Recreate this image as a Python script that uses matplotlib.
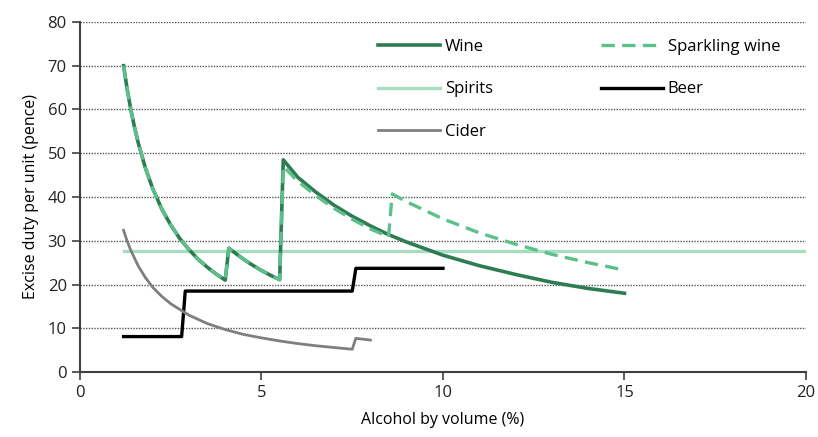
import matplotlib
matplotlib.use("Agg")
import matplotlib.pyplot as plt

# ABV (%) and excise duty per unit (pence)
wine_abv = [1.2, 1.3, 1.4, 1.5, 1.6, 1.8, 2.0, 2.25, 2.5, 2.75, 3.0, 3.25, 3.5, 3.75, 4.0,
            4.1, 4.4, 4.7, 5.0, 5.25, 5.5,
            5.6, 6.0, 6.5, 7.0, 7.5, 8.0, 8.5, 9.0, 10.0, 11.0, 12.0, 13.0, 14.0, 15.0]
wine_duty = [70.0, 64.6, 60.0, 56.0, 52.5, 46.7, 42.0, 37.3, 33.6, 30.5, 28.0, 25.8, 24.0, 22.4, 21.0,
             28.3, 26.4, 24.7, 23.2, 22.1, 21.1,
             48.5, 44.5, 41.1, 38.1, 35.6, 33.4, 31.4, 29.7, 26.7, 24.3, 22.3, 20.5, 19.1, 18.0]

spark_abv = [1.2, 1.3, 1.4, 1.5, 1.6, 1.8, 2.0, 2.25, 2.5, 2.75, 3.0, 3.25, 3.5, 3.75, 4.0,
             4.1, 4.4, 4.7, 5.0, 5.25, 5.5,
             5.6, 6.0, 6.5, 7.0, 7.5, 8.0, 8.5,
             8.6, 9.0, 10.0, 11.0, 12.0, 13.0, 14.0, 15.0]
spark_duty = [70.0, 64.6, 60.0, 56.0, 52.5, 46.7, 42.0, 37.3, 33.6, 30.5, 28.0, 25.8, 24.0, 22.4, 21.0,
              28.3, 26.4, 24.7, 23.2, 22.1, 21.1,
              47.0, 43.6, 40.3, 37.4, 34.9, 32.7, 30.9,
              40.7, 38.9, 35.0, 31.8, 29.2, 26.9, 25.0, 23.3]

spirits_abv = [1.2, 20.0]
spirits_duty = [27.6, 27.6]

beer_abv = [1.2, 2.8, 2.9, 7.5, 7.6, 10.0]
beer_duty = [8.1, 8.1, 18.5, 18.5, 23.7, 23.7]

cider_abv = [1.2, 1.3, 1.4, 1.6, 1.8, 2.0, 2.25, 2.5, 3.0, 3.5, 4.0, 4.5, 5.0, 5.5, 6.0, 6.5, 7.0, 7.5,
             7.6, 8.0]
cider_duty = [32.4, 29.9, 27.8, 24.3, 21.6, 19.4, 17.3, 15.6, 13.0, 11.1, 9.7, 8.6, 7.8, 7.1, 6.5, 6.0, 5.6, 5.2,
              7.7, 7.3]

plt.rcParams['font.family'] = ['Open Sans', 'DejaVu Sans']

fig = plt.figure(figsize=(8.18, 4.37), dpi=100)
ax = fig.add_axes([0.0978, 0.1487, 0.8875, 0.801])

h_wine, = ax.plot(wine_abv, wine_duty, color='#2e7d52', lw=2.6, label='Wine', zorder=3)
h_spark, = ax.plot(spark_abv, spark_duty, color='#5cc08a', lw=2.4, dashes=(4, 2.2),
                   label='Sparkling wine', zorder=4)
h_spirits, = ax.plot(spirits_abv, spirits_duty, color='#a9ddc0', lw=2.4, label='Spirits', zorder=2)
h_beer, = ax.plot(beer_abv, beer_duty, color='black', lw=2.4, label='Beer', zorder=3)
h_cider, = ax.plot(cider_abv, cider_duty, color='#7f7f7f', lw=2.0, label='Cider', zorder=3)

ax.set_xlim(0, 20)
ax.set_ylim(0, 80)
ax.set_xticks([0, 5, 10, 15, 20])
ax.set_yticks(range(0, 81, 10))
ax.yaxis.grid(True, linestyle=(0, (1, 1)), color='#555555', lw=1)
ax.set_axisbelow(True)
for s in ['top', 'right']:
    ax.spines[s].set_visible(False)
for s in ['left', 'bottom']:
    ax.spines[s].set_color('#404040')
    ax.spines[s].set_linewidth(1.5)
ax.tick_params(axis='both', labelsize=12, length=6, width=1.2, color='#404040',
               labelcolor='#222222')

ax.set_xlabel('Alcohol by volume (%)', fontsize=11.5, labelpad=8)
ax.set_ylabel('Excise duty per unit (pence)', fontsize=11.5, labelpad=6)

# column-wise fill, so order gives rows: Wine/Sparkling, Spirits/Beer, Cider
handles = [h_wine, h_spirits, h_cider, h_spark, h_beer]
ax.legend(handles=handles, ncol=2, frameon=False, fontsize=12, handlelength=3.7,
          handletextpad=0.3, columnspacing=6.5, labelspacing=1.6, loc='upper left',
          bbox_to_anchor=(0.39, 0.995))

fig.savefig('out.png', dpi=100)
